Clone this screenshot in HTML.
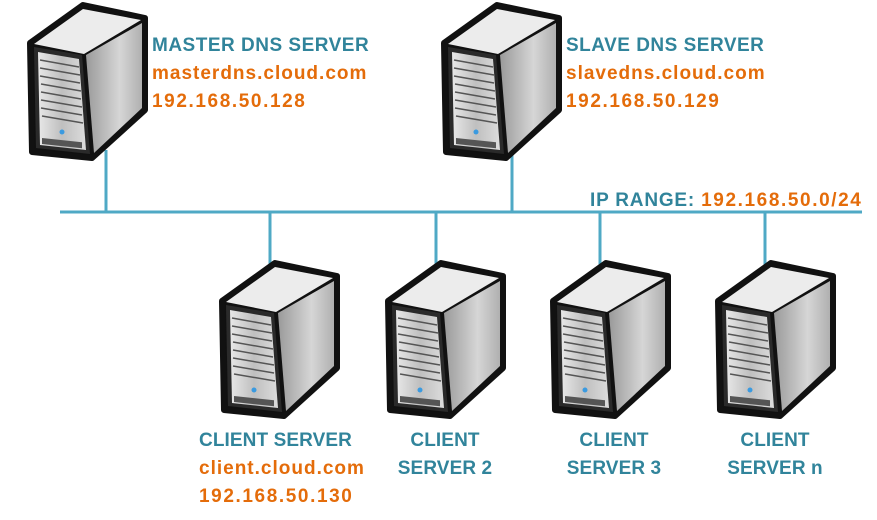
<!DOCTYPE html>
<html><head><meta charset="utf-8"><style>
body{margin:0;width:877px;height:520px;background:#fff;overflow:hidden;position:relative;font-family:"Liberation Sans",sans-serif;font-weight:bold}
.t{position:absolute;font-size:19px;line-height:28px;white-space:nowrap}
.b{color:#31849b;letter-spacing:0.1px}.o{color:#e46c0a;letter-spacing:1px}.n{color:#e46c0a;letter-spacing:1.6px}
svg{position:absolute;left:0;top:0}
</style></head><body>
<svg width="877" height="520">
<defs>
<linearGradient id="fg" x1="0" x2="1"><stop offset="0" stop-color="#e8e8e8"/><stop offset="0.5" stop-color="#bfbfbf"/><stop offset="1" stop-color="#dcdcdc"/></linearGradient>
<linearGradient id="sg" x1="0" x2="1"><stop offset="0" stop-color="#9a9a9a"/><stop offset="0.6" stop-color="#d6d6d6"/><stop offset="1" stop-color="#b0b0b0"/></linearGradient>
<g id="srv">
<polygon points="4,39 57,1 119,14 119,106 66,154 6,148" fill="#111" stroke="#111" stroke-width="6" stroke-linejoin="round"/>
<polygon points="8,40 57,5 115,16 58,50" fill="#ececec"/>
<polygon points="60,51 116,19 116,104 68,149" fill="url(#sg)"/>
<polygon points="8,43 56,51 64,150 10,144" fill="#2a2a2a"/>
<polygon points="12,48 53,55 60,146 14,141" fill="url(#fg)"/>
<g stroke="#555" stroke-width="1.5">
<line x1="14" y1="56" x2="53" y2="63"/><line x1="14" y1="64" x2="54" y2="71"/><line x1="14" y1="72" x2="54" y2="79"/><line x1="15" y1="80" x2="55" y2="87"/><line x1="15" y1="88" x2="55" y2="95"/><line x1="15" y1="96" x2="56" y2="103"/><line x1="15" y1="104" x2="56" y2="111"/><line x1="16" y1="112" x2="57" y2="119"/>
</g>
<circle cx="36" cy="128" r="2.5" fill="#3a9ae0"/>
<rect x="16" y="134" width="40" height="6" fill="#555" transform="skewY(6)" transform-origin="16 134"/>
</g>
</defs>
<g stroke="#4fa9c5" stroke-width="3">
<line x1="60" y1="212" x2="862" y2="212"/>
<line x1="106" y1="150" x2="106" y2="212"/>
<line x1="512" y1="150" x2="512" y2="212"/>
<line x1="270" y1="212" x2="270" y2="268"/>
<line x1="436" y1="212" x2="436" y2="268"/>
<line x1="600" y1="212" x2="600" y2="268"/>
<line x1="765" y1="212" x2="765" y2="268"/>
</g>
<use href="#srv" x="26" y="4"/>
<use href="#srv" x="440" y="4"/>
<use href="#srv" x="218" y="262"/>
<use href="#srv" x="384" y="262"/>
<use href="#srv" x="549" y="262"/>
<use href="#srv" x="714" y="262"/>
</svg>
<div class="t" style="left:152px;top:32px"><span class="b" style="letter-spacing:0.5px">MASTER DNS SERVER</span><br><span class="o">masterdns.cloud.com</span><br><span class="n">192.168.50.128</span></div>
<div class="t" style="left:566px;top:32px"><span class="b" style="letter-spacing:0.5px">SLAVE DNS SERVER</span><br><span class="o">slavedns.cloud.com</span><br><span class="n">192.168.50.129</span></div>
<div class="t" style="left:590px;top:187px"><span class="b" style="letter-spacing:0.8px">IP RANGE: </span><span class="n">192.168.50.0/24</span></div>
<div class="t" style="left:199px;top:427px"><span class="b">CLIENT SERVER</span><br><span class="o">client.cloud.com</span><br><span class="n">192.168.50.130</span></div>
<div class="t b" style="left:380px;width:130px;text-align:center;top:427px">CLIENT<br>SERVER 2</div>
<div class="t b" style="left:549px;width:130px;text-align:center;top:427px">CLIENT<br>SERVER 3</div>
<div class="t b" style="left:710px;width:130px;text-align:center;top:427px">CLIENT<br>SERVER n</div>
</body></html>
